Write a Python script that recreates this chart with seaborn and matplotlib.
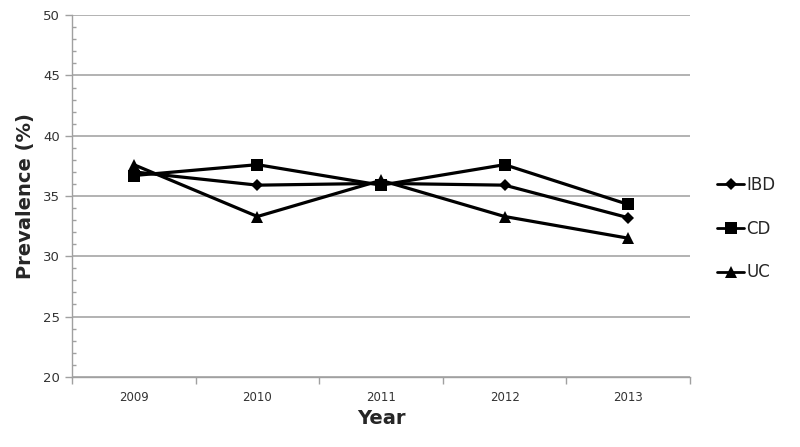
import numpy as np
import pandas as pd
import seaborn as sns
import matplotlib.pyplot as plt
from matplotlib.ticker import MultipleLocator, FixedLocator

# --- data ---
years = ["2009", "2010", "2011", "2012", "2013"]
ibd = [37.0, 35.9, 36.05, 35.9, 33.2]
cd = [36.7, 37.6, 35.9, 37.6, 34.3]
uc = [37.6, 33.3, 36.3, 33.3, 31.5]

df = pd.DataFrame({
    "Year": years * 3,
    "x": list(range(len(years))) * 3,
    "Prevalence": ibd + cd + uc,
    "Group": ["IBD"] * 5 + ["CD"] * 5 + ["UC"] * 5,
})

sns.set_style("white")
plt.rcParams["font.family"] = ["DejaVu Sans"]
plt.rcParams["xtick.bottom"] = True
plt.rcParams["ytick.left"] = True

fig = plt.figure(figsize=(8, 4.47), dpi=100)
ax = fig.add_axes([0.09, 0.157, 0.7725, 0.809])

sns.lineplot(data=df, x="x", y="Prevalence", hue="Group", style="Group",
             markers={"IBD": "D", "CD": "s", "UC": "^"},
             dashes=False, palette=["black"] * 3, linewidth=2.3,
             markersize=8, markeredgewidth=0, ax=ax, legend=True)
# diamond a bit smaller
for line in ax.lines:
    if line.get_marker() == "D":
        line.set_markersize(6.5)

ax.set_xlim(-0.5, len(years) - 0.5)
ax.set_ylim(20, 50)
ax.set_xticks(range(len(years)))
ax.set_xticklabels(years)
ax.xaxis.set_minor_locator(FixedLocator(np.arange(-0.5, len(years), 1.0)))
ax.tick_params(axis="x", which="major", bottom=False, length=0, labelsize=8.5, labelcolor="#333333", pad=10)
ax.tick_params(axis="x", which="minor", bottom=True, length=5, width=1, color="#a0a0a0")
ax.yaxis.set_major_locator(MultipleLocator(5))
ax.yaxis.set_minor_locator(MultipleLocator(1))
ax.tick_params(axis="y", which="major", left=True, length=5, width=1, color="#a0a0a0", labelsize=9.5, labelcolor="#333333")
ax.tick_params(axis="y", which="minor", left=True, direction="in", length=3, width=1, color="#a0a0a0")

ax.grid(axis="y", which="major", color="#a6a6a6", linewidth=1.2)
ax.set_axisbelow(True)
for s in ["top", "right"]:
    ax.spines[s].set_visible(False)
for s in ["left", "bottom"]:
    ax.spines[s].set_color("#a0a0a0")
    ax.spines[s].set_linewidth(1.0)

ax.set_xlabel("Year", fontsize=14, fontweight="bold", labelpad=4)
ax.set_ylabel("Prevalence (%)", fontsize=14, fontweight="bold", labelpad=6)

handles, labels = ax.get_legend_handles_labels()
for h in handles:
    h.set_linewidth(2.0)
ax.legend(handles, labels, loc="center left", bbox_to_anchor=(1.02, 0.41),
          frameon=False, fontsize=12, labelspacing=1.55, handlelength=1.6,
          handletextpad=0.15)

fig.savefig("out.png", dpi=100)
